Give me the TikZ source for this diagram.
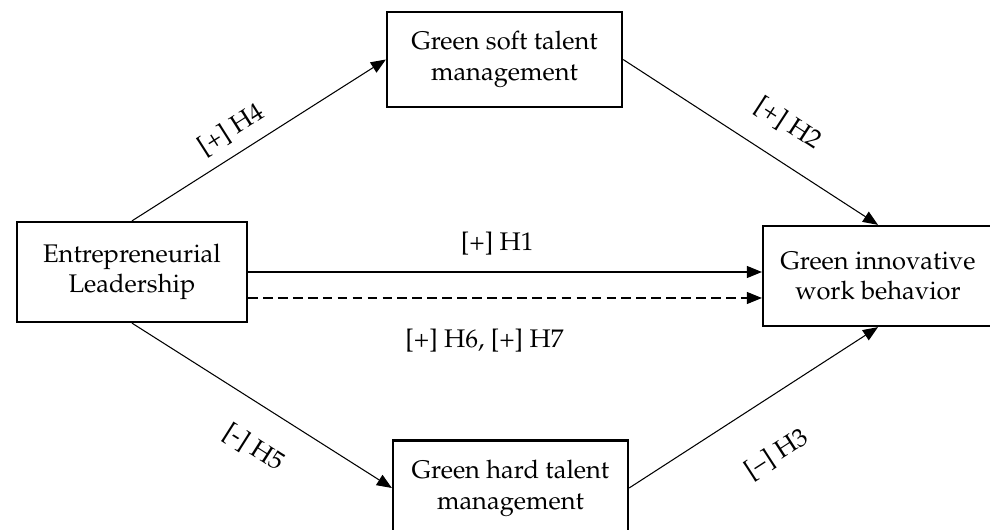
\documentclass[tikz,border=0pt]{standalone}
\usepackage[T1]{fontenc}
\usepackage{mathpazo}
\usetikzlibrary{arrows.meta}

\begin{document}
\begin{tikzpicture}[x=0.02cm,y=-0.02cm,>={Triangle[length=0.3cm,width=0.24cm]},
  box/.style={draw, line width=1.3pt, align=center, minimum width=4.6cm,
    minimum height=2cm, font=\fontsize{14.5}{17.5}\selectfont},
  link/.style={->, line width=0.6pt},
  lab/.style={font=\fontsize{14.5}{17.5}\selectfont}]
  % Frame
  \clip (0,0) rectangle (990,530);
  % Boxes
  \node[box] (lead) at (132,272) {Entrepreneurial\\Leadership};
  \node[box, minimum width=4.7cm, minimum height=1.9cm] (soft) at (504.5,59.5) {Green soft talent\\management};
  \node[box] (giwb) at (878,276) {Green innovative\\work behavior};
  \node[box, minimum width=4.7cm, minimum height=1.9cm] (hard) at (510.5,488) {Green hard talent\\management};
  % Mediated paths
  \draw[link] (lead.north) -- node[lab, sloped, pos=0.44, above=0.11cm] {[+] H4} (soft.west);
  \draw[link] (soft.east) -- node[lab, sloped, pos=0.57, above=0.35cm] {[+] H2} (giwb.north);
  \draw[link] (lead.south) -- node[lab, sloped, pos=0.55, below=0.45cm] {[-] H5} (hard.west);
  \draw[link] (hard.east) -- node[lab, sloped, pos=0.48, below=0.68cm] {[--] H3} (giwb.south);
  % Direct paths
  \coordinate (dash) at ([yshift=-0.52cm]lead.east);
  \draw[link] (lead.east) -- node[lab, pos=0.485, above=0.21cm] {[+] H1} (lead.east -| giwb.west);
  \draw[link, dash pattern=on 5.5pt off 3pt] (dash) -- node[lab, pos=0.46, below=0.49cm] {[+] H6, [+] H7} (dash -| giwb.west);
\end{tikzpicture}
\end{document}
